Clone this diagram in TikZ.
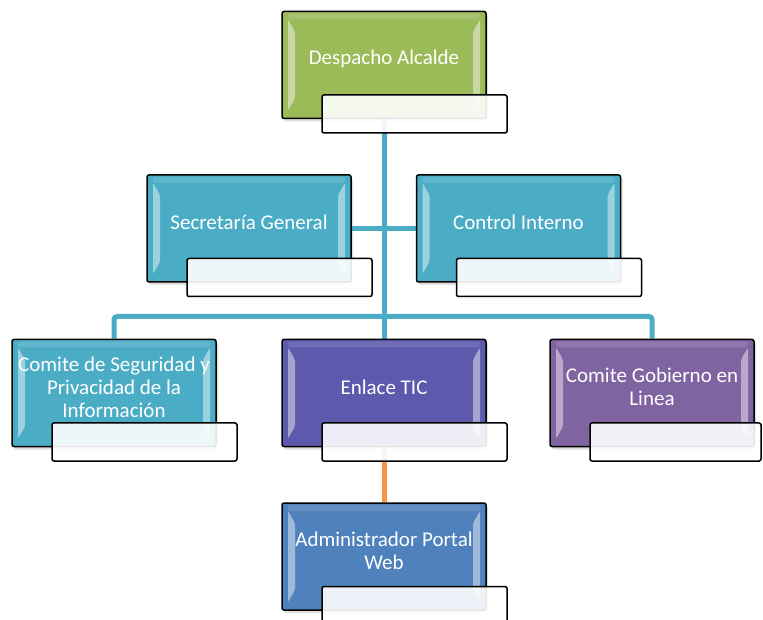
\documentclass[tikz,border=0pt]{standalone}
\usepackage{fontspec}
\setmainfont{Carlito}
\usetikzlibrary{calc,shadows,backgrounds}

\definecolor{verde}{HTML}{9BBB59}
\definecolor{turquesa}{HTML}{4BACC6}
\definecolor{indigo}{HTML}{5D59AD}
\definecolor{morado}{HTML}{8064A2}
\definecolor{azul}{HTML}{4F81BD}
\definecolor{naranja}{HTML}{F79646}

\begin{document}
\begin{tikzpicture}[x=1pt,y=1pt,
    caja/.style={draw=black,line width=1.5pt,rounded corners=2pt,inner sep=0pt,
      minimum width=204pt,minimum height=107pt,
      drop shadow={opacity=0.25,shadow xshift=2pt,shadow yshift=-3pt},
      path picture={
        \fill[white,opacity=0.45]([shift={(6pt,-8pt)}]path picture bounding box.north west)--++(7pt,-12pt)
          --([shift={(13pt,20pt)}]path picture bounding box.south west)--++(-7pt,-12pt)--cycle;
        \fill[white,opacity=0.45]([shift={(-6pt,-8pt)}]path picture bounding box.north east)--++(-7pt,-12pt)
          --([shift={(-13pt,20pt)}]path picture bounding box.south east)--++(7pt,-12pt)--cycle;
        \fill[white,opacity=0.12]([shift={(6pt,-2pt)}]path picture bounding box.north west)
          rectangle([shift={(-6pt,-8pt)}]path picture bounding box.north east);}},
    texto/.style={text=white,align=center,inner sep=0pt,font=\fontsize{21}{23}\selectfont},
    sub/.style={draw=black,line width=1.5pt,rounded corners=2pt,fill=white,fill opacity=0.9,
      draw opacity=1,minimum height=38pt,inner sep=0pt},
    linea/.style={turquesa,line width=5pt},
    enlace/.style={naranja,line width=5pt}]
  \useasboundingbox (0,0) rectangle (763,619);
  \foreach \n/\x/\y/\c/\w/\t in {
      alcalde/384/554/verde/185/{Despacho Alcalde},
      secretaria/249/390.5/turquesa/185/{Secretaría General},
      control/518.5/390.5/turquesa/185/{Control Interno},
      seguridad/114/226/turquesa/185/{Comite de Seguridad y\\Privacidad de la\\Información},
      tic/384/226/indigo/185/{Enlace TIC},
      gobierno/652/226/morado/171/{Comite Gobierno en\\Linea},
      portal/384/62.5/azul/185/{Administrador Portal\\Web}}{
    \node[caja,fill=\c] (\n) at (\x,\y) {};
    \node[texto] (\n-t) at ([yshift=6]\n.center) {\t};
    \node[sub,minimum width=\w pt,anchor=north west] (\n-s) at ([shift={(40,25)}]\n.south west) {};
  }
  % conectores
  \begin{scope}[on background layer]
    \coordinate (bus) at ($(alcalde)+(0,-251.5)$);
    \draw[linea] (alcalde) -- (tic);
    \draw[linea] (secretaria) -- (control);
    \draw[linea,rounded corners=3pt] (seguridad.north) |- (bus) -| (gobierno.north);
    \draw[enlace] (tic) -- (portal);
  \end{scope}
\end{tikzpicture}
\end{document}
